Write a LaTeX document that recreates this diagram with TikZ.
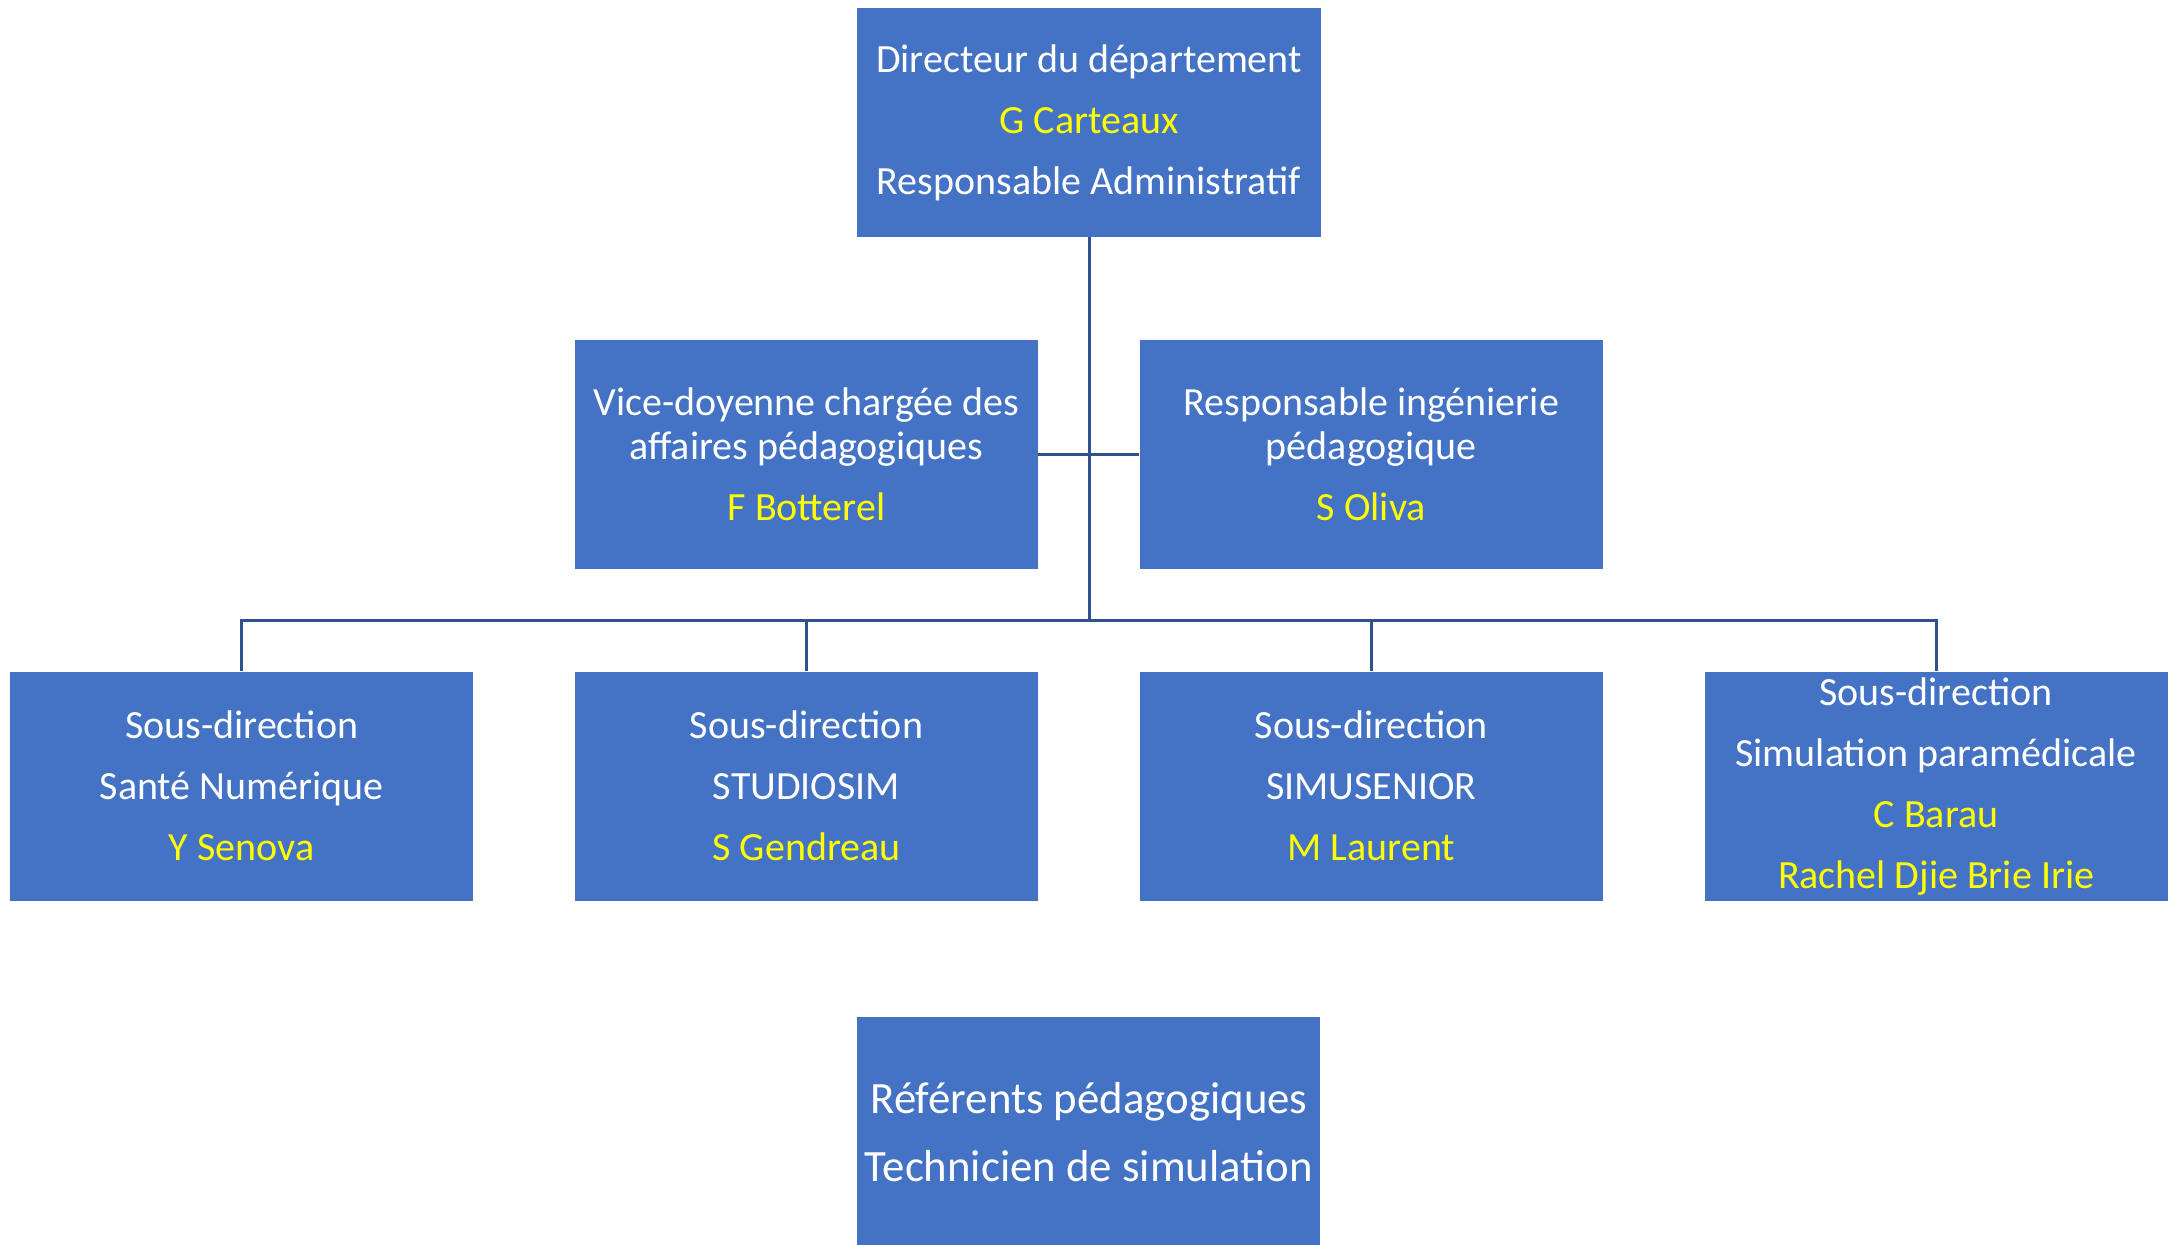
\documentclass[tikz,border=0pt]{standalone}
\usepackage{fontspec}
\setmainfont{Carlito}
\usetikzlibrary{positioning, calc}
\definecolor{boxblue}{HTML}{4472C4}
\definecolor{linkblue}{HTML}{2F528F}
\definecolor{nameyellow}{HTML}{FFFF00}
\newcommand{\who}[1]{\textcolor{nameyellow}{#1}}

\begin{document}
\begin{tikzpicture}[node distance=51pt and 50.5pt,
      orgbox/.style={fill=boxblue, text=white, align=center, inner sep=1pt, minimum width=231.5pt, minimum height=114.5pt, font=\fontsize{20}{22}\selectfont},
      link/.style={draw=linkblue, line width=1.5pt}]

    \useasboundingbox (-544.5pt,61.25pt) rectangle (541.5pt,-560.75pt);

    \node[orgbox] (dir) {Directeur du département \\[8.5pt] \who{G Carteaux} \\[8.5pt] Responsable Administratif};
    \node[orgbox, below=of dir, xshift=-141.25pt] (vice) {Vice-doyenne chargée des \\ affaires pédagogiques \\[8.5pt] \who{F Botterel}};
    \node[orgbox, right=of vice] (resp) {Responsable ingénierie \\ pédagogique \\[8.5pt] \who{S Oliva}};

    \node[orgbox, below=of vice] (sdstudio) {Sous-direction \\[8.5pt] STUDIOSIM \\[8.5pt] \who{S Gendreau}};
    \node[orgbox, left=of sdstudio] (sdsante) {Sous-direction \\[8.5pt] Santé Numérique \\[8.5pt] \who{Y Senova}};
    \node[orgbox, below=of resp] (sdsenior) {Sous-direction \\[8.5pt] SIMUSENIOR \\[8.5pt] \who{M Laurent}};
    \node[orgbox, right=of sdsenior] (sdparam) {Sous-direction \\[8.5pt] Simulation paramédicale \\[8.5pt] \who{C Barau} \\[8.5pt] \who{Rachel Djie Brie Irie}};

    \coordinate (midrow) at ($(sdstudio.south)!0.5!(sdsenior.south)$);
    \node[orgbox, below=58pt of midrow, font=\fontsize{22.4}{34}\selectfont] (refs) {Référents pédagogiques \\ Technicien de simulation};

    \coordinate (hub) at ($(dir.south |- sdstudio.north)+(0,25.5pt)$);
    \draw[link] (dir) -- (hub);
    \draw[link] (vice) -- (resp);
    \draw[link] (sdsante.north) |- (hub) -| (sdparam.north);
    \draw[link] (sdstudio.north) -- (sdstudio.north |- hub);
    \draw[link] (sdsenior.north) -- (sdsenior.north |- hub);
  \end{tikzpicture}
\end{document}
